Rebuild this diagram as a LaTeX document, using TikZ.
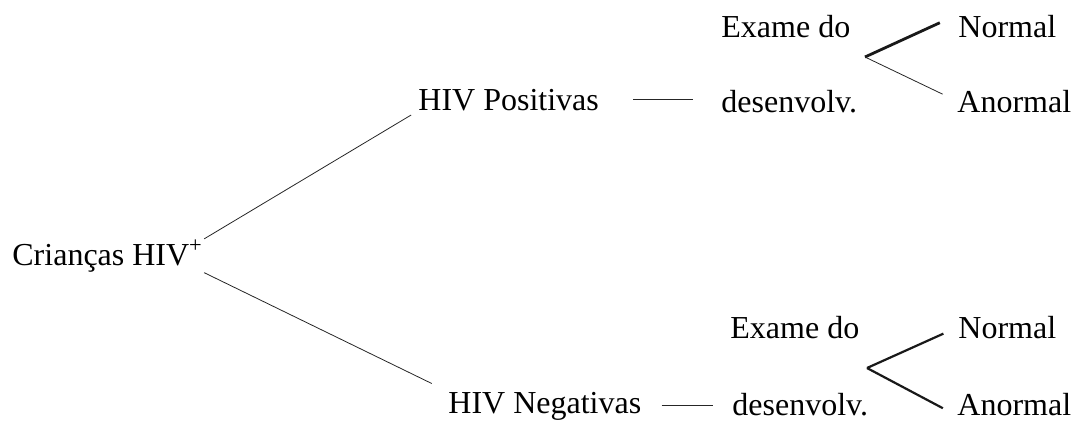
\documentclass[tikz,border=0pt]{standalone}
\usepackage{fontspec}
\setmainfont{Liberation Serif}
\tikzset{
  treeText/.style={
    anchor=base west,
    inner sep=0pt,
    font=\fontsize{16}{19}\selectfont
  },
  treeLine/.style={
    draw=black!85,
    line width=0.4pt
  },
  treeLineThick/.style={
    draw=black!90,
    line width=1.1pt
  }
}

\begin{document}
\begin{tikzpicture}[x=0.5pt, y=-0.5pt]
  \useasboundingbox (0,0) rectangle (1077,420);

  \node[treeText] (root) at (12,265) {Crianças HIV\textsuperscript{+}};

  \node[treeText] (pos) at (418,110) {HIV Positivas};
  \node[treeText] (neg) at (448,413) {HIV Negativas};

  \node[treeText] (exameA) at (721,37) {Exame do};
  \node[treeText] (desA) at (721,112) {desenvolv.};
  \node[treeText] (exameB) at (730,338) {Exame do};
  \node[treeText] (desB) at (732,415) {desenvolv.};

  \node[treeText] (normA) at (958,37) {Normal};
  \node[treeText] (anormA) at (957,112) {Anormal};
  \node[treeText] (normB) at (958,338) {Normal};
  \node[treeText] (anormB) at (957,415) {Anormal};

  \coordinate (forkA) at (865,57);
  \coordinate (forkB) at (867,368);

  \draw[treeLine, shorten <=0.5pt, shorten >=4pt] (root.north east) -- (pos.south west);
  \draw[treeLine, shorten <=0.5pt, shorten >=9pt] (root.south east) -- (neg.north west);

  \draw[treeLine, shorten <=17pt, shorten >=14pt] (pos.east) -- (pos.east -| desA.west);
  \draw[treeLine, shorten <=10pt, shorten >=9.5pt] (neg.east) -- (neg.east -| desB.west);

  \draw[treeLineThick, line width=1.4pt, shorten >=10pt] (forkA) -- (normA.north west);
  \draw[treeLine, shorten >=8pt] (forkA) -- (anormA.west);
  \draw[treeLineThick, shorten >=8pt] (forkB) -- (normB.west);
  \draw[treeLineThick, shorten >=8pt] (forkB) -- (anormB.south west);
\end{tikzpicture}
\end{document}
